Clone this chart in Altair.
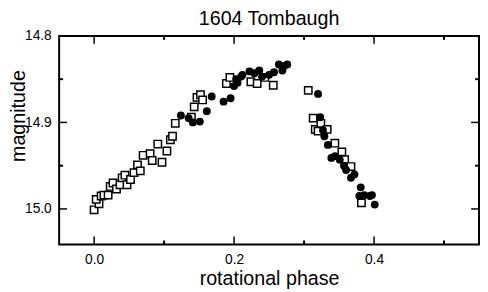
import altair as alt
import pandas as pd

# open squares (series A)
sq_phase = [0.000, 0.007, 0.003, 0.010, 0.014, 0.020, 0.023, 0.027, 0.032, 0.037,
            0.040, 0.047, 0.044, 0.052, 0.057, 0.062, 0.066, 0.070, 0.080, 0.083,
            0.091, 0.097, 0.104, 0.109, 0.112, 0.116, 0.139, 0.143, 0.147, 0.152,
            0.155, 0.189, 0.194, 0.224, 0.233, 0.244, 0.256, 0.306, 0.313, 0.316,
            0.320, 0.324, 0.333, 0.344, 0.354, 0.358, 0.367, 0.382]
sq_mag = [15.001, 14.994, 14.989, 14.985, 14.984, 14.984, 14.974, 14.970, 14.977, 14.972,
          14.964, 14.972, 14.961, 14.966, 14.958, 14.949, 14.956, 14.938, 14.936, 14.944,
          14.925, 14.946, 14.933, 14.920, 14.916, 14.901, 14.894, 14.882, 14.871, 14.868,
          14.874, 14.855, 14.848, 14.853, 14.855, 14.848, 14.857, 14.863, 14.895, 14.908,
          14.910, 14.901, 14.908, 14.924, 14.934, 14.943, 14.951, 14.993]

# filled circles (series B)
ci_phase = [0.124, 0.135, 0.141, 0.151, 0.161, 0.168, 0.185, 0.195, 0.200, 0.203,
            0.210, 0.222, 0.205, 0.212, 0.236, 0.229, 0.240, 0.250, 0.257, 0.264,
            0.271, 0.276, 0.269, 0.320, 0.323, 0.327, 0.329, 0.334, 0.339, 0.344,
            0.351, 0.357, 0.360, 0.367, 0.372, 0.381, 0.379, 0.386, 0.394, 0.397, 0.401]
ci_mag = [14.892, 14.895, 14.900, 14.899, 14.887, 14.870, 14.876, 14.872, 14.858, 14.850,
          14.847, 14.841, 14.854, 14.845, 14.840, 14.843, 14.847, 14.845, 14.842, 14.833,
          14.835, 14.833, 14.840, 14.867, 14.894, 14.909, 14.916, 14.926, 14.941, 14.939,
          14.943, 14.950, 14.955, 14.964, 14.960, 14.975, 14.985, 14.984, 14.985, 14.984, 14.995]

x_major = [0.0, 0.2, 0.4]
x_minor = [0.1, 0.3, 0.5]
y_major = [14.8, 14.9, 15.0]
y_minor = [14.85, 14.95]

W, H = 427, 212
FONT = "Liberation Sans"

xscale = alt.Scale(domain=[-0.05, 0.55], nice=False, zero=False)
yscale = alt.Scale(domain=[14.8, 15.041], nice=False, zero=False, reverse=True)

sq_df = pd.DataFrame({"phase": sq_phase, "mag": sq_mag})
ci_df = pd.DataFrame({"phase": ci_phase, "mag": ci_mag})

xaxis = alt.Axis(values=x_major, format=".1f", title="rotational phase",
                 grid=False, ticks=False, tickSize=0, domain=False,
                 labelFont=FONT, labelFontSize=14, labelColor="black", labelPadding=8,
                 titleFont=FONT, titleFontSize=20, titleFontWeight="normal",
                 titleColor="black", titleY=41, titleBaseline="alphabetic")
yaxis = alt.Axis(values=y_major, format=".1f", title="magnitude",
                 grid=False, ticks=False, tickSize=0, domain=False,
                 labelFont=FONT, labelFontSize=14, labelColor="black", labelPadding=8,
                 titleFont=FONT, titleFontSize=20, titleFontWeight="normal",
                 titleColor="black", titleX=-35, titleY=81, titleBaseline="alphabetic")

squares = alt.Chart(sq_df).mark_point(
    shape="square", filled=False, fill="white", fillOpacity=1,
    stroke="black", strokeWidth=1.5, size=56, opacity=1
).encode(
    x=alt.X("phase:Q", scale=xscale, axis=xaxis),
    y=alt.Y("mag:Q", scale=yscale, axis=yaxis),
)

circles = alt.Chart(ci_df).mark_point(
    shape="circle", filled=True, color="black", size=64, opacity=1
).encode(
    x=alt.X("phase:Q", scale=xscale),
    y=alt.Y("mag:Q", scale=yscale),
)

def xticks(vals, length, width):
    df = pd.DataFrame({"phase": vals})
    bot = alt.Chart(df).mark_rule(color="black", strokeWidth=width).encode(
        x=alt.X("phase:Q", scale=xscale),
        y=alt.value(H), y2=alt.value(H - length))
    top = alt.Chart(df).mark_rule(color="black", strokeWidth=width).encode(
        x=alt.X("phase:Q", scale=xscale),
        y=alt.value(0), y2=alt.value(length))
    return [bot, top]

def yticks(vals, length, width):
    df = pd.DataFrame({"mag": vals})
    left = alt.Chart(df).mark_rule(color="black", strokeWidth=width).encode(
        y=alt.Y("mag:Q", scale=yscale),
        x=alt.value(0), x2=alt.value(length))
    right = alt.Chart(df).mark_rule(color="black", strokeWidth=width).encode(
        y=alt.Y("mag:Q", scale=yscale),
        x=alt.value(W), x2=alt.value(W - length))
    return [left, right]

layers = [squares, circles]
layers += xticks(x_major, 8, 1.5) + xticks(x_minor, 4, 2)
layers += yticks(y_major, 8, 1.5) + yticks(y_minor, 4, 2)

chart = alt.layer(*layers).properties(
    width=W, height=H,
    background="white",
    title=alt.TitleParams("1604 Tombaugh", font=FONT, fontSize=20,
                          fontWeight="normal", color="black", anchor="middle",
                          offset=0),
    padding={"left": 52, "top": 26, "right": 1, "bottom": 46},
    autosize="none",
).configure_view(stroke="black", strokeWidth=2)

chart.save("out.html", embed_options={"renderer": "svg", "actions": False})
